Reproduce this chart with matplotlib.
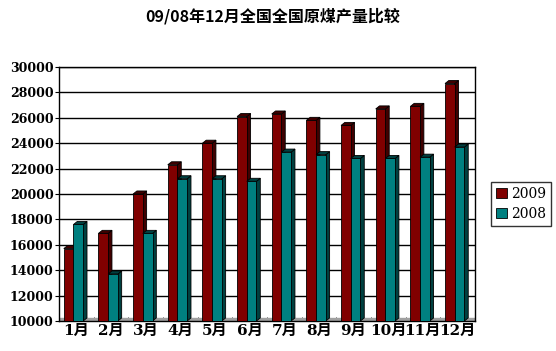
import matplotlib
matplotlib.use('Agg')
import matplotlib.pyplot as plt
import numpy as np

months = ['1月', '2月', '3月', '4月', '5月', '6月', '7月', '8月', '9月', '10月', '11月', '12月']
prod_2009 = [15700, 16900, 20000, 22300, 24000, 26100, 26300, 25800, 25400, 26700, 26900, 28700]
prod_2008 = [17600, 13700, 16900, 21200, 21200, 21000, 23300, 23100, 22800, 22800, 22900, 23700]
series = [('2009', prod_2009, '#800000', '#400000'),
          ('2008', prod_2008, '#008080', '#004040')]

plt.rcParams['font.family'] = ['Noto Sans CJK SC', 'DejaVu Sans']

fig = plt.figure(figsize=(5.56, 3.51), dpi=100)
ax = fig.add_axes([0.106, 0.0855, 0.748, 0.7235])

width = 0.28
dx, dy = 0.11, 240   # fake 3D depth
y0 = 10000
x = np.arange(len(months)) + 0.5
offsets = [-0.36, -0.08]

handles = []
for (name, vals, face, shade), off in zip(series, offsets):
    for xi, v in zip(x, vals):
        l, r = xi + off, xi + off + width
        # side face
        ax.fill([r, r + dx, r + dx, r], [y0, y0 + dy, v + dy, v],
                facecolor=shade, edgecolor='black', linewidth=0.6, zorder=3)
        # top face
        ax.fill([l, l + dx, r + dx, r], [v, v + dy, v + dy, v],
                facecolor=shade, edgecolor='black', linewidth=0.6, zorder=3)
    h = ax.bar(x + off, np.array(vals) - y0, width=width, bottom=y0, align='edge',
               color=face, edgecolor='black', linewidth=0.6, zorder=3, label=name)
    handles.append(h)

# floor
ax.axhspan(y0, y0 + dy, color='#a0a0a0', zorder=2)

ax.set_xlim(0, 12)
ax.set_ylim(10000, 30000)
ax.set_yticks(np.arange(10000, 30001, 2000))
ax.yaxis.grid(True, color='black', linewidth=1)
ax.set_axisbelow(True)
for s in ax.spines.values():
    s.set_linewidth(1)

ax.set_xticks(x)
ax.set_xticklabels(months, family=['DejaVu Serif', 'Noto Sans CJK SC'],
                   fontsize=11, fontweight='bold')
ax.set_xticks(np.arange(0, 13), minor=True)
ax.tick_params(axis='x', which='major', length=0, pad=2)
ax.tick_params(axis='x', which='minor', length=3, direction='in')
ax.tick_params(axis='y', length=3, pad=1)
for t in ax.get_yticklabels():
    t.set_family('DejaVu Serif')
    t.set_fontweight('bold')
    t.set_fontsize(9)

fig.text(0.49, 0.955, '09/08年12月全国全国原煤产量比较', ha='center', va='center',
         fontsize=11.5, fontweight='bold')

leg = fig.legend(handles=handles, loc='upper left', bbox_to_anchor=(0.883, 0.482),
                 prop={'family': 'DejaVu Serif', 'size': 10},
                 frameon=True, fancybox=False, edgecolor='black',
                 handlelength=0.8, handleheight=0.8, handletextpad=0.3,
                 borderpad=0.35, labelspacing=0.45, borderaxespad=0)
leg.get_frame().set_linewidth(1)

fig.savefig('out.png', dpi=100)
